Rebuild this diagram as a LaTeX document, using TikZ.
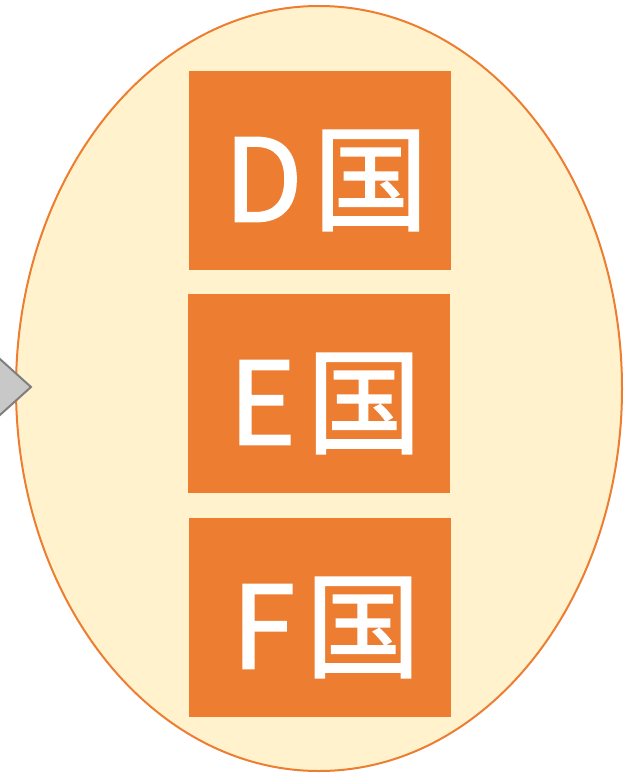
\documentclass[tikz,border=0pt]{standalone}
\usepackage{fontspec}
\usetikzlibrary{shapes.geometric}
\newfontfamily\cjk{Noto Sans CJK SC}[FakeBold=1.5]
\definecolor{orangeC}{HTML}{ED7D31}
\definecolor{paleY}{HTML}{FFF2CC}
\definecolor{chevF}{HTML}{C8C8C8}
\definecolor{chevD}{HTML}{7F7F7F}
\newcommand{\ctry}[1]{#1\hspace{8pt}国}
\tikzset{
  countrybox/.style={fill=orangeC, draw=none, minimum width=262*0.75pt, minimum height=199*0.75pt, inner sep=0pt},
  countrytext/.style={inner sep=0pt, text=white, font=\cjk\fontsize{86}{86}\selectfont},
}
\begin{document}
\begin{tikzpicture}[x=0.75pt,y=-0.75pt]
\useasboundingbox (0,0) rectangle (629,775);
\node[ellipse, draw=orangeC, fill=paleY, line width=1.5pt, minimum width=606*0.75pt, minimum height=765*0.75pt, inner sep=0pt] (grp) at (319,388.5) {};
\node[countrybox] (d) at (320,170.5) {};
\node[countrybox] (e) at (319,393.5) {};
\node[countrybox] (f) at (320,617.5) {};
\node[countrytext] (dt) at ([shift={(6,10)}]d.center) {\ctry{D}};
\node[countrytext] (et) at ([shift={(6,10)}]e.center) {\ctry{E}};
\node[countrytext] (ft) at ([shift={(6,10)}]f.center) {\ctry{F}};
\begin{scope}
\clip (0,0) rectangle (629,775);
\draw[fill=chevF, draw=chevD, line width=1.5pt, line join=miter] (-40,323) -- (31,387) -- (-40,451) -- cycle;
\end{scope}
\end{tikzpicture}
\end{document}
